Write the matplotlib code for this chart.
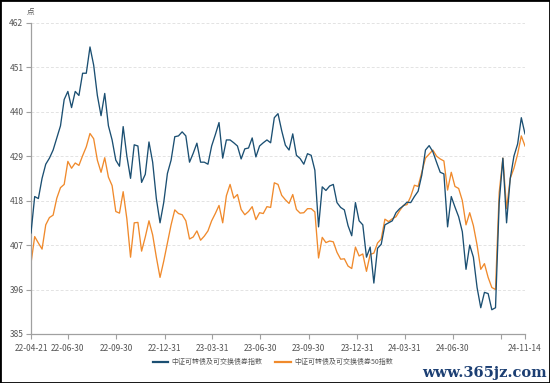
import matplotlib
matplotlib.use("Agg")
import matplotlib.pyplot as plt
import pandas as pd
from matplotlib.patches import Rectangle

plt.rcParams['font.family'] = ['Noto Sans CJK SC', 'DejaVu Sans']

# ---- data (weekly samples) ----
start_date = '2022-04-21'
end_date = '2024-11-14'
dates = pd.date_range(start_date, end_date, freq='7D')

series_names = ['中证可转债及可交换债券指数', '中证可转债及可交换债券50指数']

index_all = [
    410.0, 419.0, 418.5, 423.5, 427.0, 428.5, 430.5, 433.5, 436.5, 443.0,
    445.0, 441.0, 445.0, 444.0, 449.5, 449.5, 456.0, 451.5, 444.0, 439.0,
    444.5, 436.5, 433.0, 428.0, 426.5, 436.3, 429.0, 423.5, 431.8, 431.5,
    422.5, 424.5, 432.5, 427.5, 418.5, 412.5, 417.5, 424.7, 428.0, 433.8,
    434.0, 435.0, 434.0, 427.5, 429.7, 432.2, 427.5, 427.5, 427.0, 431.5,
    434.3, 437.3, 428.5, 433.0, 433.0, 432.3, 431.5, 428.3, 430.8, 431.0,
    433.5, 428.8, 431.5, 432.3, 433.0, 432.3, 438.5, 439.5, 435.3, 431.7,
    430.5, 434.5, 429.2, 428.4, 427.0, 429.6, 429.2, 425.5, 411.5, 421.4,
    420.5, 421.6, 422.0, 417.5, 416.3, 415.7, 411.8, 409.3, 417.5, 413.0,
    412.0, 404.0, 406.5, 397.6, 406.2, 407.2, 412.0, 412.5, 413.0, 415.0,
    416.0, 416.7, 417.6, 417.5, 419.0, 420.3, 424.3, 430.5, 431.6, 430.1,
    427.5, 425.0, 424.6, 411.5, 419.0, 416.4, 414.0, 410.3, 401.0, 407.0,
    404.0, 396.5, 391.5, 395.3, 395.0, 391.0, 391.5, 417.5, 428.5, 412.5,
    423.5, 429.0, 432.0, 438.5, 434.5,
]

index_50 = [
    402.5, 409.1, 407.5, 406.0, 412.0, 413.8, 414.4, 418.6, 421.2, 422.0,
    427.7, 426.0, 427.3, 426.7, 429.1, 431.3, 434.6, 433.3, 428.0, 425.0,
    428.6, 423.8, 421.7, 415.3, 414.9, 420.2, 413.5, 404.0, 412.5, 412.6,
    405.5, 409.0, 413.0, 409.5, 404.0, 399.0, 403.0, 407.5, 412.0, 415.7,
    414.8, 414.5, 413.0, 408.5, 409.0, 410.5, 408.2, 409.2, 410.5, 413.0,
    414.8, 416.8, 412.5, 419.2, 422.0, 418.6, 419.5, 415.8, 414.5, 415.3,
    416.5, 413.3, 415.0, 414.8, 416.5, 416.3, 422.4, 422.0, 419.3, 418.2,
    417.3, 419.5, 415.8, 414.9, 415.0, 416.0, 416.0, 415.2, 403.8, 408.9,
    407.6, 408.0, 407.8, 405.2, 403.5, 403.6, 401.8, 401.2, 406.5, 404.3,
    404.8, 400.5, 404.7, 405.0, 407.5, 408.5, 413.4, 412.8, 413.5, 414.0,
    415.5, 416.8, 417.0, 419.0, 421.8, 421.5, 425.0, 428.5, 429.5, 430.5,
    429.0, 428.3, 427.8, 420.6, 425.0, 421.5, 421.0, 418.0, 412.0, 415.0,
    411.8, 407.0, 401.0, 402.4, 399.0, 396.5, 396.0, 420.0, 428.5, 416.0,
    423.5, 426.0, 429.5, 434.0, 431.5,
]

x_tick_dates = ['2022-04-21', '2022-06-30', '2022-09-30', '2022-12-31',
                '2023-03-31', '2023-06-30', '2023-09-30', '2023-12-31',
                '2024-03-31', '2024-06-30', '2024-09-30', '2024-11-14']
x_tick_labels = ['22-04-21', '22-06-30', '22-09-30', '22-12-31',
                 '23-03-31', '23-06-30', '23-09-30', '23-12-31',
                 '24-03-31', '24-06-30', '', '24-11-14']
y_ticks = [385, 396, 407, 418, 429, 440, 451, 462]
unit_label = '点'
watermark = 'www.365jz.com'

# ---- drawing ----
fig = plt.figure(figsize=(5.5, 3.83), dpi=100)
ax = fig.add_axes([31 / 550, 1 - 334 / 383, (525 - 31) / 550, (334 - 22.7) / 383])

blue = '#1b4f72'
orange = '#f08a2c'
ax.plot(dates, index_all, color=blue, lw=0.95, label=series_names[0], zorder=3)
ax.plot(dates, index_50, color=orange, lw=0.95, label=series_names[1], zorder=2)

ax.set_xlim(pd.Timestamp(start_date), pd.Timestamp(end_date))
ax.set_ylim(385, 462)

ax.set_yticks(y_ticks)
ax.set_yticklabels([str(v) for v in y_ticks])
ax.set_xticks(pd.to_datetime(x_tick_dates))
ax.set_xticklabels(x_tick_labels)

for s in ['top', 'right']:
    ax.spines[s].set_visible(False)
for s in ['left', 'bottom']:
    ax.spines[s].set_color('#a0a0a0')
    ax.spines[s].set_linewidth(0.9)

ax.tick_params(axis='both', colors='#a0a0a0', labelcolor='#555555',
               labelsize=6.0, length=3.5, width=0.8, pad=2)
ax.tick_params(axis='x', pad=4)

ax.grid(axis='y', color='#e3e3e3', linestyle=(0, (3, 2)), linewidth=0.7)
ax.set_axisbelow(True)

fig.text(31 / 550, 1 - 12 / 383, unit_label, ha='center', va='center',
         fontsize=5.5, color='#555555')

leg = fig.legend(loc='center', bbox_to_anchor=(273 / 550, 1 - 362 / 383), ncol=2,
                 frameon=False, fontsize=5.0, handlelength=2.2, handletextpad=0.5,
                 columnspacing=1.8)
for line in leg.get_lines():
    line.set_linewidth(1.6)
for t in leg.get_texts():
    t.set_color('#555555')

fig.text(484 / 550, 1 - 373 / 383, watermark, ha='center', va='center',
         fontsize=10.5, fontweight='bold', family='DejaVu Serif', color='#1c3f73')

fig.patches.append(Rectangle((0, 0), 1, 1, transform=fig.transFigure,
                             fill=False, edgecolor='black', linewidth=2.0))

fig.savefig('out.png', dpi=100)
